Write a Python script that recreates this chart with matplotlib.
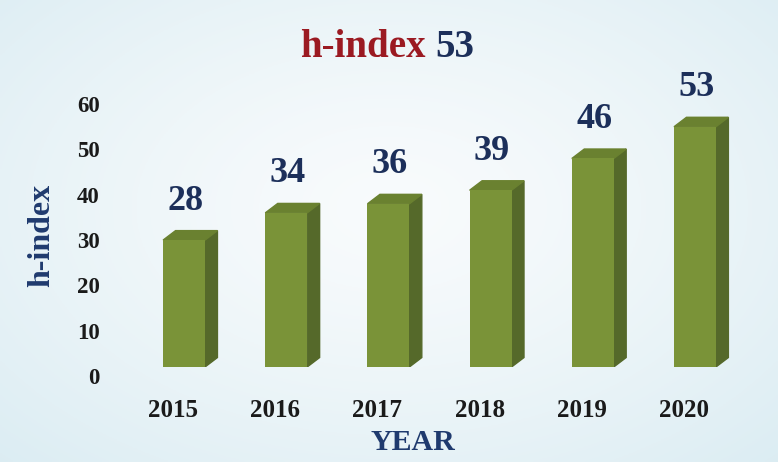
# h-index por año, barras estilo 3D
import numpy as np
import matplotlib.pyplot as plt
from matplotlib.patches import Polygon
from matplotlib.transforms import ScaledTranslation

# Datos
years = ["2015", "2016", "2017", "2018", "2019", "2020"]
hindex = [28, 34, 36, 39, 46, 53]
yticks = [0, 10, 20, 30, 40, 50, 60]

plt.rcParams['font.family'] = ['Liberation Serif', 'DejaVu Serif']
plt.rcParams['font.weight'] = 'bold'

navy = "#1c2f5a"
front_c = "#7a9338"
side_c = "#55692a"
top_c = "#6a8130"

fig = plt.figure(figsize=(7.78, 4.62), dpi=100)

# Fondo con degradado
bg = fig.add_axes([0, 0, 1, 1], zorder=-10)
yy, xx = np.mgrid[0:1:200j, 0:1:300j]
r = np.sqrt(((xx - 0.5) / 0.75) ** 2 + ((yy - 0.45) / 0.8) ** 2)
r = np.clip(r, 0, 1)
c0 = np.array([0.975, 0.985, 0.99])
c1 = np.array([0.855, 0.925, 0.95])
img = c0 + (c1 - c0) * r[..., None] ** 1.3
bg.imshow(img, extent=[0, 1, 0, 1], aspect='auto', origin='upper')
bg.axis('off')

ax = fig.add_axes([0.1446, 0.2056, 0.8406, 0.5887])
ax.patch.set_alpha(0)
x = np.arange(len(years))
w = 0.41
dx = 0.122
dy = 2.09

ax.bar(x, hindex, width=w, color=front_c, zorder=3)
for xi, v in zip(x, hindex):
    x0, x1 = xi - w / 2, xi + w / 2
    ax.add_patch(Polygon([(x1, 0), (x1 + dx, dy), (x1 + dx, v + dy), (x1, v)],
                         closed=True, color=side_c, zorder=2))
    ax.add_patch(Polygon([(x0, v), (x1, v), (x1 + dx, v + dy), (x0 + dx, v + dy)],
                         closed=True, color=top_c, zorder=2))
    ax.annotate(str(v), (xi, v), xytext=(1, 22), textcoords='offset points',
                ha='center', va='baseline', fontsize=26, color=navy)

ax.set_xlim(-0.7, 5.7)
ax.set_ylim(0, 60)
ax.set_yticks(yticks)
ax.set_xticks(x)
ax.set_xticklabels(years, fontsize=18, color="#1a1a1a")
ax.set_yticklabels([str(t) for t in yticks], fontsize=16.5, color="#1a1a1a")
ax.tick_params(axis='both', length=0)
ax.tick_params(axis='y', pad=9)
ax.tick_params(axis='x', pad=23)
for s in ax.spines.values():
    s.set_visible(False)

# Desplazar etiquetas de ejes
for lab in ax.get_yticklabels():
    lab.set_transform(lab.get_transform() + ScaledTranslation(0, -0.09, fig.dpi_scale_trans))
for lab in ax.get_xticklabels():
    lab.set_transform(lab.get_transform() + ScaledTranslation(-0.11, 0, fig.dpi_scale_trans))

# Títulos y etiquetas
t1 = fig.text(300 / 778, 1 - 57 / 462, "h-index", fontsize=28, color="#9b1a22",
              ha='left', va='baseline')
ax.annotate("53", xy=(1, 0), xycoords=t1, xytext=(7, 0), textcoords='offset points',
            fontsize=28, color=navy, ha='left', va='bottom', annotation_clip=False)
fig.text(42 / 778, 1 - 235 / 462, "h-index", fontsize=23, color="#1f3a6e",
         rotation=90, ha='center', va='center')
fig.text(413 / 778, 1 - 442 / 462, "YEAR", fontsize=21.5, color="#1f3a6e",
         ha='center', va='center')

plt.savefig("out.png", dpi=100)
